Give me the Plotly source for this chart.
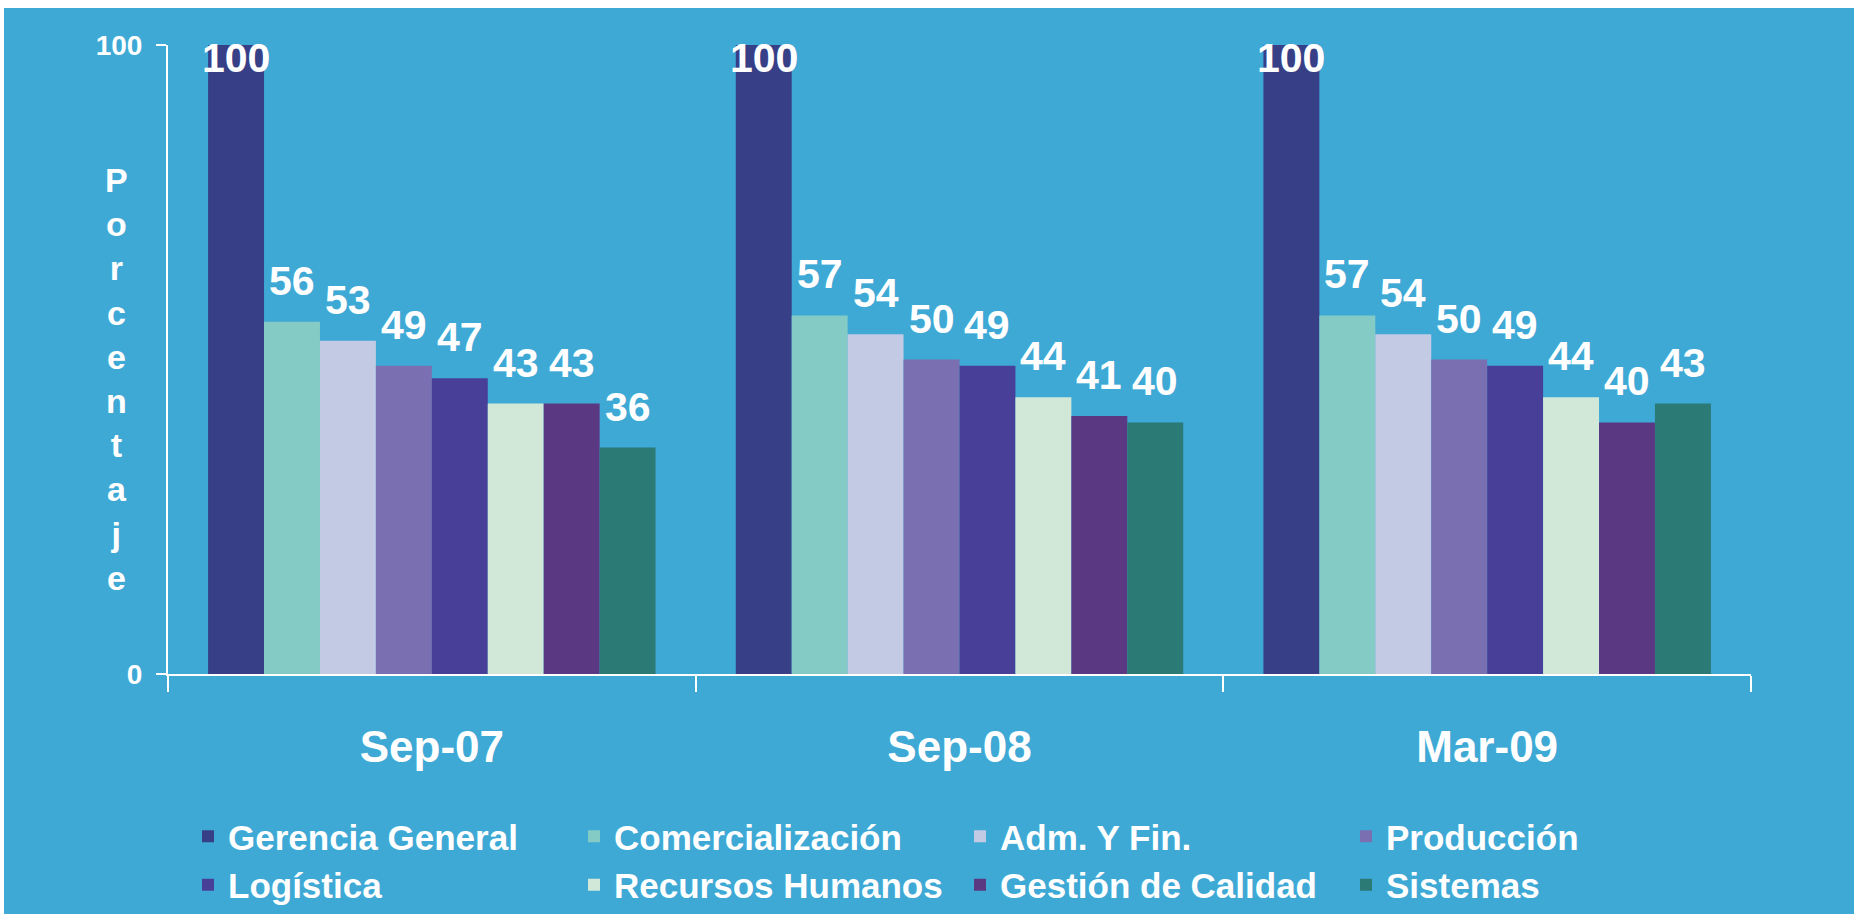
import plotly.graph_objects as go

categories = ["Sep-07", "Sep-08", "Mar-09"]
series_names = ["Gerencia General", "Comercialización", "Adm. Y Fin.", "Producción",
                "Logística", "Recursos Humanos", "Gestión de Calidad", "Sistemas"]
gerencia = [100, 100, 100]
comercializacion = [56, 57, 57]
adm_fin = [53, 54, 54]
produccion = [49, 50, 50]
logistica = [47, 49, 49]
rrhh = [43, 44, 44]
calidad = [43, 41, 40]
sistemas = [36, 40, 43]
series_values = [gerencia, comercializacion, adm_fin, produccion,
                 logistica, rrhh, calidad, sistemas]
colors = ["#373F87", "#85CBC5", "#C3CAE3", "#7A6FB0",
          "#484098", "#D1E8D8", "#5B3882", "#2B7A75"]
y_ticks = [0, 100]
y_title = "Porcentaje"

W, H = 1857, 914
L = 168
R = W - 1751
T = 45
B = H - 674
BG = "#3FA9D6"
FONT = "Liberation Sans, Arial, sans-serif"
bargap = 0.152

plot_w = W - L - R
plot_h = H - T - B


def fx(px):
    return (px - L) / plot_w


def fy(py):
    return (H - B - py) / plot_h


fig = go.Figure()
for name, vals, col in zip(series_names, series_values, colors):
    fig.add_trace(go.Bar(name=name, x=categories, y=vals,
                         marker=dict(color=col, line=dict(width=0)),
                         hoverinfo="x+y+name"))

# value labels
n = len(series_names)
cat_w = plot_w / len(categories)
bw = cat_w * (1 - bargap) / n
annotations = []
for i, vals in enumerate(series_values):
    for c, v in zip(categories, vals):
        top = v >= 95
        annotations.append(dict(
            x=c, y=v, xref="x", yref="y", text=str(v), showarrow=False,
            xshift=(i - (n - 1) / 2) * bw,
            yanchor="top" if top else "bottom",
            yshift=12 if top else 16,
            font=dict(family=FONT, size=41, color="white", weight="bold"),
        ))

# vertical stacked y title
annotations.append(dict(
    x=fx(116), y=fy(379), xref="paper", yref="paper",
    text="<br>".join(list(y_title)), showarrow=False, xanchor="center", yanchor="middle",
    align="center", font=dict(family=FONT, size=34, color="white", weight="bold"),
))

# white page edges as in the reference
shapes = [
    dict(type="rect", xref="paper", yref="paper", x0=fx(0), x1=fx(W), y0=fy(0), y1=fy(8),
         fillcolor="white", line=dict(width=0), layer="below"),
    dict(type="rect", xref="paper", yref="paper", x0=fx(0), x1=fx(4), y0=fy(0), y1=fy(H),
         fillcolor="white", line=dict(width=0), layer="below"),
    dict(type="rect", xref="paper", yref="paper", x0=fx(1854), x1=fx(W), y0=fy(0), y1=fy(H),
         fillcolor="white", line=dict(width=0), layer="below"),
]

fig.update_layout(
    width=W, height=H,
    margin=dict(l=L, r=R, t=T, b=B, autoexpand=False),
    paper_bgcolor=BG, plot_bgcolor=BG,
    barmode="group", bargap=bargap, bargroupgap=0,
    font=dict(family=FONT, color="white"),
    showlegend=True,
    legend=dict(orientation="h", x=fx(188), y=fy(807), xanchor="left", yanchor="top",
                entrywidth=341, entrywidthmode="pixels", bgcolor="rgba(0,0,0,0)",
                font=dict(family=FONT, size=35, color="white", weight="bold"),
                tracegroupgap=0, itemclick=False),
    annotations=annotations,
    shapes=shapes,
    xaxis=dict(
        showline=True, linecolor="white", linewidth=2,
        ticks="outside", tickson="boundaries", ticklen=16, tickwidth=2, tickcolor="white",
        tickfont=dict(family=FONT, size=44, color="white", weight="bold"),
        ticklabelstandoff=33, showgrid=False, fixedrange=True,
    ),
    yaxis=dict(
        range=[0, 100], tickvals=y_ticks, ticktext=[str(t) for t in y_ticks],
        showline=True, linecolor="white", linewidth=2,
        ticks="outside", ticklen=10, tickwidth=2, tickcolor="white",
        showgrid=True, gridcolor="white", gridwidth=2, zeroline=False,
        tickfont=dict(family=FONT, size=28, color="white", weight="bold"),
        ticklabelstandoff=8, fixedrange=True,
    ),
)

fig.write_html(
    "out.html",
    config={"displayModeBar": False},
    post_script="document.body.style.margin='0';document.body.style.overflow='hidden';",
)
